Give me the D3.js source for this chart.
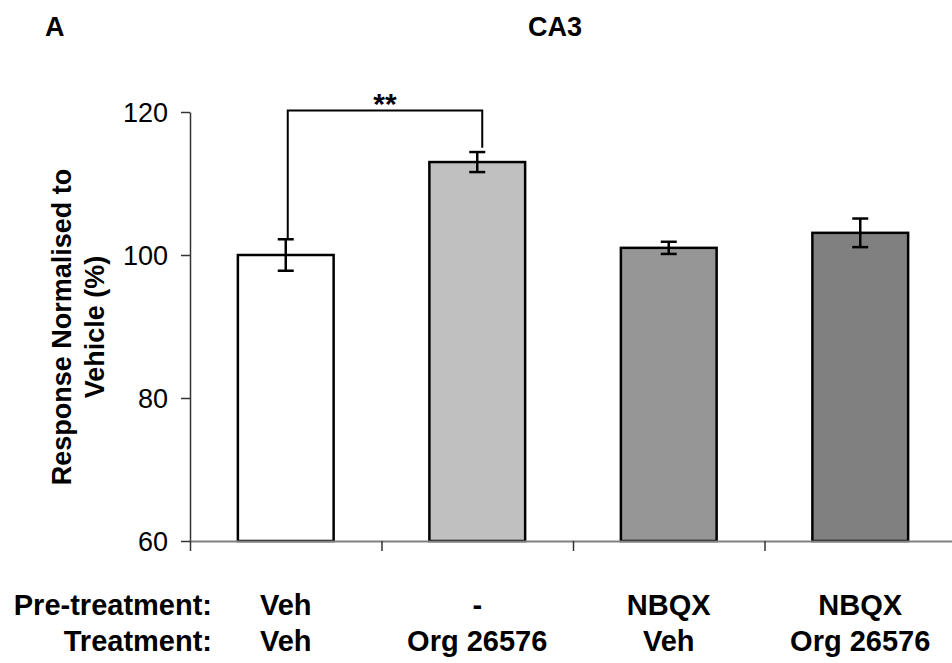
<!DOCTYPE html>
<html>
<head>
<meta charset="utf-8">
<script src="https://cdn.jsdelivr.net/npm/d3@7"></script>
<style>
  html, body { margin: 0; padding: 0; background: #fff; }
  svg { display: block; font-family: "Liberation Sans", Arial, Helvetica, sans-serif; }
</style>
</head>
<body>
<svg id="chart" width="952" height="663"></svg>
<script>
// ---- data ----
const categories = ["Veh|Veh", "-|Org 26576", "NBQX|Veh", "NBQX|Org 26576"];
const preTreatment = ["Veh", "-", "NBQX", "NBQX"];
const treatment = ["Veh", "Org 26576", "Veh", "Org 26576"];
const values = [100, 113, 101, 103.1];
const errors = [2.2, 1.4, 0.85, 2.0];
const barColors = ["#ffffff", "#c0c0c0", "#969696", "#808080"];
const yTicks = [60, 80, 100, 120];
const rowLabels = ["Pre-treatment:", "Treatment:"];
const significance = [{ from: 0, to: 1, level: 120.2, end: 115.0, label: "**" }];
const panelLabel = "A";
const chartTitle = "CA3";
const yLabelLines = ["Response Normalised to", "Vehicle (%)"];

// ---- layout ----
const svg = d3.select("#chart");
const plotLeft = 190, plotRight = 956, plotTop = 112, plotBottom = 541;

const y = d3.scaleLinear().domain([60, 120]).range([plotBottom, plotTop]);
const x = d3.scaleBand().domain(categories).range([plotLeft, plotRight]).paddingInner(0).paddingOuter(0);
const xEdges = d3.scaleLinear().domain([0, categories.length]).range([plotLeft, plotRight]);
const barW = x.bandwidth() * 0.5;
const cx = i => x(categories[i]) + x.bandwidth() / 2;

// y axis
const yAxis = svg.append("g")
  .attr("transform", `translate(${plotLeft},0)`)
  .call(d3.axisLeft(y).tickValues(yTicks).tickSize(9).tickSizeOuter(0).tickPadding(13).tickFormat(d3.format("d")));
yAxis.select(".domain").attr("stroke", "#333").attr("stroke-width", 1.5);
yAxis.selectAll(".tick line").attr("stroke", "#333").attr("stroke-width", 1.5);
yAxis.selectAll(".tick text").attr("font-size", 27).attr("fill", "#000")
  .attr("font-family", "Liberation Sans, Arial, sans-serif").attr("dy", "0.36em");

// bars
svg.append("g").selectAll("rect").data(values).join("rect")
  .attr("x", (d, i) => cx(i) - barW / 2)
  .attr("y", d => y(d))
  .attr("width", barW)
  .attr("height", d => y(60) - y(d))
  .attr("fill", (d, i) => barColors[i])
  .attr("stroke", "#000")
  .attr("stroke-width", 2.5);

// x axis (drawn over bar bottoms)
const xAxis = svg.append("g")
  .attr("transform", `translate(0,${plotBottom})`)
  .call(d3.axisBottom(xEdges).tickValues(d3.range(categories.length + 1)).tickSize(10).tickSizeOuter(0).tickFormat(""));
xAxis.select(".domain").attr("stroke", "#808080").attr("stroke-width", 2);
xAxis.selectAll(".tick line").attr("stroke", "#333").attr("stroke-width", 1.5);

// error bars
const capW = 8;
const eb = svg.append("g").attr("stroke", "#000").attr("stroke-width", 2.5).attr("fill", "none");
values.forEach((v, i) => {
  const c = cx(i);
  eb.append("line").attr("x1", c).attr("x2", c).attr("y1", y(v + errors[i])).attr("y2", y(v - errors[i]));
  eb.append("line").attr("x1", c - capW).attr("x2", c + capW).attr("y1", y(v + errors[i])).attr("y2", y(v + errors[i]));
  eb.append("line").attr("x1", c - capW).attr("x2", c + capW).attr("y1", y(v - errors[i])).attr("y2", y(v - errors[i]));
});

// significance bracket
significance.forEach(s => {
  const x1 = cx(s.from) + 2, x2 = cx(s.to) + 5;
  const y1 = y(values[s.from] + errors[s.from]);
  svg.append("path")
    .attr("d", `M${x1},${y1}V${y(s.level)}H${x2}V${y(s.end)}`)
    .attr("fill", "none").attr("stroke", "#000").attr("stroke-width", 2);
  svg.append("text")
    .attr("x", (x1 + x2) / 2).attr("y", y(s.level) + 3)
    .attr("text-anchor", "middle").attr("font-size", 30).attr("font-weight", "bold")
    .text(s.label);
});

// titles
svg.append("text").attr("x", 45).attr("y", 36).attr("font-size", 27).attr("font-weight", "bold").text(panelLabel);
svg.append("text").attr("x", 555).attr("y", 36).attr("text-anchor", "middle").attr("font-size", 27).attr("font-weight", "bold").text(chartTitle);

// y axis label (two lines, rotated)
const yl = svg.append("text")
  .attr("transform", `translate(0,327) rotate(-90)`)
  .attr("text-anchor", "middle").attr("font-size", 27).attr("font-weight", "bold");
yl.append("tspan").attr("x", 0).attr("y", 71).text(yLabelLines[0]);
yl.append("tspan").attr("x", 0).attr("y", 104).text(yLabelLines[1]);

// bottom category labels
const rowY = [615, 651];
const rows = [preTreatment, treatment];
rows.forEach((row, r) => {
  svg.append("text").attr("x", 212).attr("y", rowY[r]).attr("text-anchor", "end")
    .attr("font-size", 29).attr("font-weight", "bold").text(rowLabels[r]);
  row.forEach((t, i) => {
    svg.append("text").attr("x", cx(i)).attr("y", rowY[r]).attr("text-anchor", "middle")
      .attr("font-size", 29).attr("font-weight", "bold").text(t);
  });
});
</script>
</body>
</html>
